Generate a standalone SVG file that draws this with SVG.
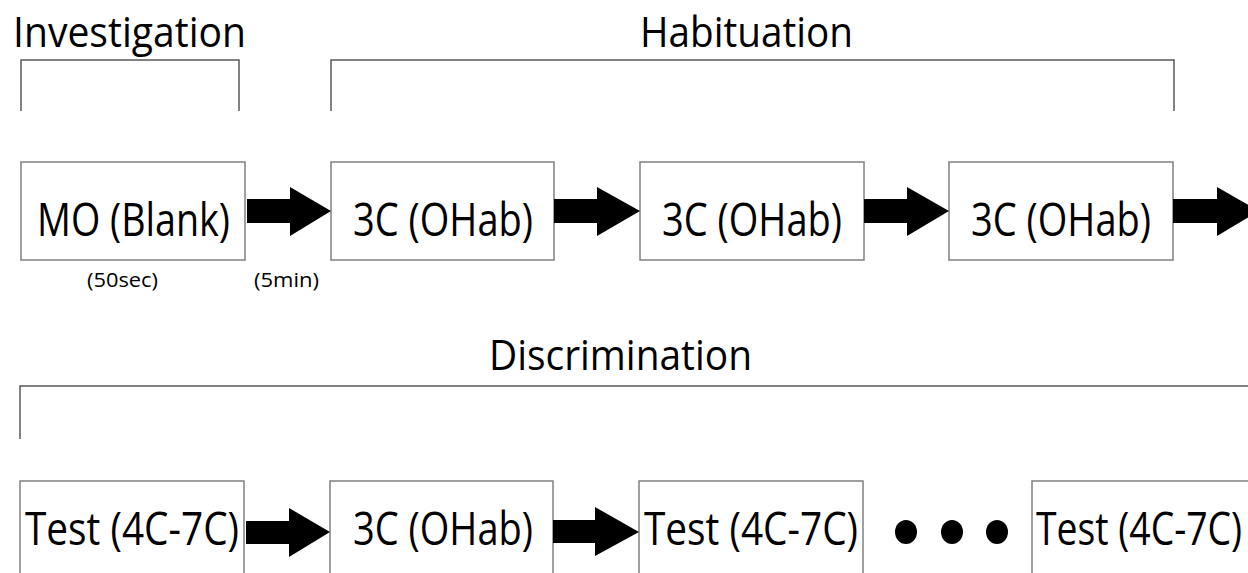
<svg xmlns="http://www.w3.org/2000/svg" width="1248" height="573" viewBox="0 0 1248 573">
<style>
.box{fill:#fff;stroke:#808080;stroke-width:1.5}
.br{fill:none;stroke:#5a5a5a;stroke-width:1.5}
.t{font-family:"Open Sans","Noto Sans","Liberation Sans",sans-serif;fill:#000}
.big{font-size:46px}
.head{font-size:42px}
.small{font-size:20px}
.arr{fill:#000}
</style>
<rect width="1248" height="573" fill="#fff"/>
<g id="investigation">
<path class="br" d="M21,111 V60 H239 V111"/>
<text class="t head" x="13" y="47" textLength="233" lengthAdjust="spacingAndGlyphs">Investigation</text>
</g>
<g id="habituation">
<path class="br" d="M331,111 V60 H1174 V111"/>
<text class="t head" x="640" y="47" textLength="213" lengthAdjust="spacingAndGlyphs">Habituation</text>
</g>
<g id="discrimination">
<path class="br" d="M20,439 V386 H1260"/>
<text class="t head" x="489" y="370" textLength="263" lengthAdjust="spacingAndGlyphs">Discrimination</text>
</g>
<g id="mo">
<rect class="box" x="21" y="162" width="224" height="98"/>
<text class="t big" x="37" y="236" textLength="193" lengthAdjust="spacingAndGlyphs">MO (Blank)</text>
<text class="t small" x="87" y="287" textLength="71" lengthAdjust="spacingAndGlyphs">(50sec)</text>
</g>
<g id="hab1">
<rect class="box" x="331" y="162" width="223" height="98"/>
<text class="t big" x="353" y="236" textLength="180" lengthAdjust="spacingAndGlyphs">3C (OHab)</text>
</g>
<g id="hab2">
<rect class="box" x="640" y="162" width="224" height="98"/>
<text class="t big" x="662" y="236" textLength="180" lengthAdjust="spacingAndGlyphs">3C (OHab)</text>
</g>
<g id="hab3">
<rect class="box" x="949" y="162" width="224" height="98"/>
<text class="t big" x="971" y="236" textLength="180" lengthAdjust="spacingAndGlyphs">3C (OHab)</text>
</g>
<g id="test1">
<rect class="box" x="20" y="481" width="224" height="120"/>
<text class="t big" x="25" y="545" textLength="214" lengthAdjust="spacingAndGlyphs">Test (4C-7C)</text>
</g>
<g id="hab4">
<rect class="box" x="330" y="481" width="223" height="120"/>
<text class="t big" x="353" y="545" textLength="180" lengthAdjust="spacingAndGlyphs">3C (OHab)</text>
</g>
<g id="test2">
<rect class="box" x="639" y="481" width="224" height="120"/>
<text class="t big" x="644" y="545" textLength="214" lengthAdjust="spacingAndGlyphs">Test (4C-7C)</text>
</g>
<g id="test3">
<rect class="box" x="1032" y="481" width="240" height="120"/>
<text class="t big" x="1036" y="545" textLength="206" lengthAdjust="spacingAndGlyphs">Test (4C-7C)</text>
</g>
<g id="connectors">
<path class="arr" d="M247,199 H290 V187 L331,211 L290,236 V223 H247 Z"/>
<text class="t small" x="254" y="287" textLength="65" lengthAdjust="spacingAndGlyphs">(5min)</text>
<path class="arr" d="M554,199 H597 V187 L640,211 L597,236 V223 H554 Z"/>
<path class="arr" d="M864,199 H907 V187 L949,211 L907,236 V223 H864 Z"/>
<path class="arr" d="M1173,199 H1217 V187 L1259,211 L1217,236 V223 H1173 Z"/>
<path class="arr" d="M246,521 H289 V508 L330,532 L289,557 V544 H246 Z"/>
<path class="arr" d="M553,520 H595 V507 L639,532 L595,556 V543 H553 Z"/>
<ellipse class="arr" cx="906" cy="532" rx="11" ry="12"/>
<ellipse class="arr" cx="952" cy="532" rx="11" ry="12"/>
<ellipse class="arr" cx="997" cy="532" rx="11" ry="12"/>
</g>
</svg>
